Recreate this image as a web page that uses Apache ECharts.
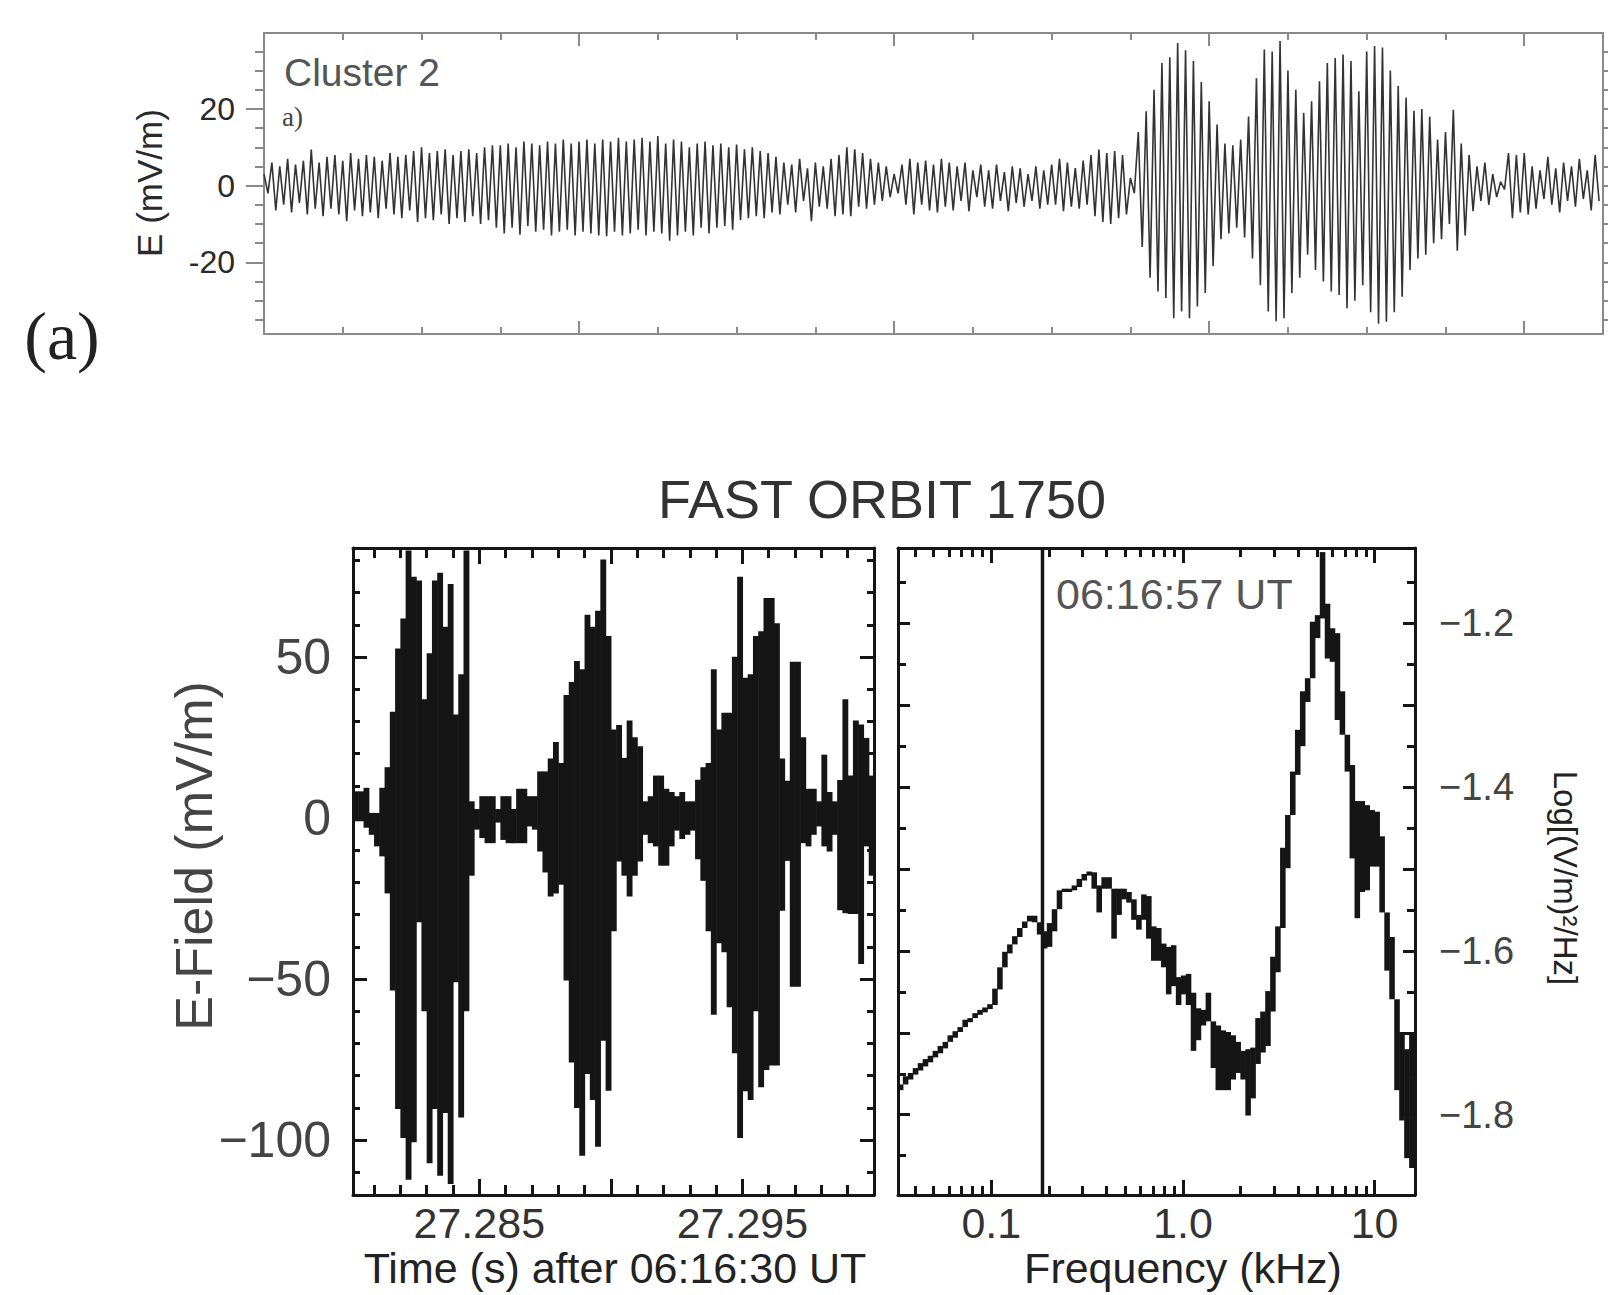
<!DOCTYPE html>
<html>
<head>
<meta charset="utf-8">
<script src="https://cdn.jsdelivr.net/npm/echarts@6/dist/echarts.min.js"></script>
<style>
  html, body { margin: 0; padding: 0; background: #fff; }
  #chart { width: 1608px; height: 1295px; }
</style>
</head>
<body>
<div id="chart"></div>
<script>
// ---------- values ----------

// (a) Cluster 2: peak and trough of each wave period (mV/m), one period = 0.1 tick unit
var clusterStep = 0.1;
var clusterPeaks = [
  3, 6, 5, 7, 5.5, 6.5, 9.4, 6, 7.5, 8,
  6.5, 8.5, 7, 8, 7.5, 6.5, 8.5, 7.5, 8, 9,
  10, 8.5, 9, 9.5, 8, 9, 9.5, 8.5, 10, 10.5,
  10.5, 11, 10, 11.5, 11, 10.5, 11.5, 11, 12, 11,
  11.5, 12, 11, 12, 11.5, 12.5, 11.5, 12, 12.5, 11.5,
  12.9, 11, 12, 11.5, 10, 11, 11.5, 10.5, 11, 10,
  10.7, 9.5, 10, 9, 8.5, 7.5, 6, 5.5, 7, 4.5,
  6, 5, 7, 8, 10, 9.5, 8.5, 7, 6, 5,
  3, 5.5, 7, 6, 6.5, 5.5, 7, 6, 5, 6,
  4, 5.5, 4, 5.5, 3.5, 5, 4.5, 3, 5, 4,
  5.5, 7, 6, 4.6, 6.5, 8, 9.4, 8.5, 9, 8,
  2, 14, 19.4, 25, 32, 33.5, 37.2, 35.3, 32.5, 27,
  22, 15.9, 11, 10.5, 12, 18, 28, 35.5, 35, 37.7,
  30, 25, 19, 22, 27.2, 32, 33.3, 34.2, 32.5, 24.6,
  35, 36.4, 36, 30, 26, 23, 19.5, 20, 18, 12,
  14, 19.8, 11, 8, 5, 6, 3, 1, 8.5, 8,
  8.5, 5, 4, 7.5, 4.5, 6, 5, 7, 4, 8
];
var clusterTroughs = [
  -2, -6.5, -5, -7, -4.5, -7.5, -6, -8, -6, -7.5,
  -9.3, -6.5, -8, -7, -8.5, -6, -7.5, -8.5, -6.5, -9.5,
  -8.5, -9, -7.5, -10, -8.5, -9.5, -8, -10, -9, -11,
  -12.5, -11, -12.8, -10.5, -12, -11.5, -13, -12, -11.5, -13,
  -12, -12.5, -13, -13.2, -12, -13, -12.5, -11.5, -13, -12,
  -12.5, -14.4, -13, -12, -13, -11, -12.5, -11, -10.5, -11.5,
  -9, -8.5, -8, -8.5, -7, -7.5, -5, -7, -4, -9.3,
  -5.5, -6, -8, -7.5, -8, -5.5, -6, -5, -4, -3,
  -2, -5, -7.5, -5, -6.5, -7, -5.5, -6.5, -4, -6.7,
  -3, -5.5, -6, -4, -6.7, -4.5, -5.5, -4, -6, -5,
  -5, -6.7, -5.5, -6, -5, -8, -9.5, -10, -8.5, -7.5,
  -2, -16, -24, -27.6, -29.3, -34.6, -32.8, -34.6, -31.5, -28,
  -21, -14, -12.5, -11, -13.5, -19, -26, -32.8, -35.4, -34.6,
  -28, -24, -18, -22, -25, -27.6, -28.5, -32, -30, -26,
  -33, -36, -35.5, -33, -29, -22, -19, -18, -15, -14,
  -10, -17, -13, -6.7, -4, -5, -3, -1, -8.5, -7,
  -7.5, -6, -3.5, -5, -7, -4, -5.5, -3.5, -6.5, -4
];
var clusterYLabels = [-20, 0, 20];

// FAST E-field: max / min of the trace in each 0.2 ms column (mV/m)
var fastT0 = 27.2802, fastDt = 0.0002;
var fastHigh = [
  8.3, 8.3, 9.4, 1.6, 1.6, 9.4, 15.8, 33.0, 52.7, 62.0,
  83.1, 75.0, 73.8, 36.9, 51.2, 73.8, 76.2, 59.4, 72.7, 32.2,
  44.7, 83.1, 5.2, 2.8, 6.8, 6.8, 6.8, 2.8, 6.8, 6.8,
  2.8, 9.1, 9.1, 6.8, 6.8, 14.5, 14.5, 18.5, 23.6, 17.1,
  38.2, 42.3, 48.8, 46.2, 63.2, 59.4, 64.4, 80.3, 56.6, 27.5,
  28.9, 18.7, 30.3, 25.1, 22.3, 5.2, 6.8, 13.2, 13.2, 9.1,
  8.1, 6.8, 8.1, 5.2, 5.2, 11.9, 15.8, 17.1, 46.2, 27.5,
  32.7, 32.7, 50.1, 75.0, 43.6, 44.7, 56.6, 58.0, 68.4, 68.4,
  60.5, 18.5, 11.6, 48.6, 48.6, 25.1, 9.1, 9.1, 5.2, 19.7,
  8.1, 5.2, 11.8, 36.9, 13.2, 30.3, 29.1, 24.9, 13.2
];
var fastLow = [
  -1.0, -1.0, -3.0, -5.2, -8.8, -11.9, -23.4, -53.6, -90.4, -99.4,
  -112.4, -100.7, -32.4, -60.0, -107.2, -90.4, -111.1, -91.6, -113.7, -51.0,
  -93.0, -60.0, -17.9, -3.6, -6.2, -7.8, -7.8, -1.4, -6.8, -7.8,
  -7.8, -7.8, -7.8, -2.6, -3.6, -10.4, -16.9, -24.4, -23.4, -20.7,
  -50.5, -75.9, -90.1, -104.9, -79.5, -87.6, -102.1, -69.2, -84.7, -35.2,
  -13.5, -17.9, -24.4, -17.9, -13.5, -5.2, -7.8, -8.8, -14.8, -14.8,
  -8.8, -3.9, -6.5, -5.2, -3.9, -12.8, -19.5, -35.2, -61.1, -38.9,
  -41.7, -58.8, -73.1, -99.4, -84.9, -87.6, -60.0, -83.6, -78.3, -76.9,
  -76.9, -28.8, -13.3, -52.4, -52.4, -7.8, -8.8, -5.2, -2.6, -8.8,
  -10.4, -5.2, -28.6, -29.6, -29.8, -29.8, -45.3, -8.8, -17.9
];
var fastXLabels = [27.285, 27.295];
var fastYLabels = [-100, -50, 0, 50];

// FAST spectrum: top / bottom of the trace per column, log10 f grid (kHz)
var specLogF0 = -1.4875, specDLog = 0.0259;
var specHigh = [
  -1.763, -1.753, -1.749, -1.743, -1.737, -1.732, -1.728, -1.722, -1.716, -1.711,
  -1.703, -1.698, -1.693, -1.684, -1.682, -1.676, -1.672, -1.669, -1.665, -1.646,
  -1.620, -1.601, -1.592, -1.582, -1.572, -1.564, -1.557, -1.557, -1.566, -1.576,
  -1.566, -1.549, -1.526, -1.524, -1.524, -1.520, -1.512, -1.506, -1.503, -1.504,
  -1.520, -1.510, -1.510, -1.524, -1.524, -1.524, -1.528, -1.537, -1.556, -1.531,
  -1.533, -1.570, -1.572, -1.591, -1.595, -1.593, -1.632, -1.630, -1.628, -1.651,
  -1.670, -1.672, -1.651, -1.686, -1.691, -1.697, -1.699, -1.703, -1.711, -1.722,
  -1.720, -1.718, -1.682, -1.674, -1.649, -1.607, -1.570, -1.474, -1.434, -1.381,
  -1.330, -1.283, -1.267, -1.198, -1.190, -1.113, -1.176, -1.206, -1.212, -1.283,
  -1.336, -1.373, -1.417, -1.417, -1.422, -1.428, -1.430, -1.460, -1.583, -1.583,
  -1.686, -1.699, -1.720, -1.699
];
var specLow = [
  -1.770, -1.763, -1.757, -1.751, -1.746, -1.741, -1.736, -1.730, -1.725, -1.719,
  -1.711, -1.706, -1.699, -1.693, -1.687, -1.682, -1.678, -1.675, -1.671, -1.666,
  -1.647, -1.620, -1.603, -1.592, -1.583, -1.572, -1.564, -1.565, -1.580, -1.597,
  -1.595, -1.576, -1.549, -1.528, -1.528, -1.526, -1.522, -1.514, -1.508, -1.524,
  -1.553, -1.524, -1.524, -1.585, -1.556, -1.537, -1.541, -1.562, -1.574, -1.562,
  -1.585, -1.612, -1.612, -1.620, -1.653, -1.643, -1.666, -1.653, -1.666, -1.722,
  -1.709, -1.691, -1.686, -1.743, -1.770, -1.770, -1.770, -1.757, -1.749, -1.757,
  -1.801, -1.780, -1.738, -1.724, -1.716, -1.674, -1.626, -1.572, -1.499, -1.434,
  -1.385, -1.350, -1.296, -1.267, -1.218, -1.194, -1.243, -1.247, -1.318, -1.336,
  -1.381, -1.487, -1.560, -1.528, -1.526, -1.497, -1.497, -1.553, -1.624, -1.659,
  -1.770, -1.807, -1.853, -1.865
];
var markerFreq = 0.185;   // 06:16:57 UT marker, kHz
var specXLabels = [0.1, 1, 10];
var specYLabels = [-1.8, -1.6, -1.4, -1.2];

// ---------- axis ranges ----------
var topX = [0, 17], topY = [-38.7, 39.8];
var fastX = [27.2802, 27.3], fastY = [-117.1, 83.9];
var specX = [0.0326, 16.25], specY = [-1.898, -1.108];

var FONT = "'Liberation Sans', Arial, Helvetica, sans-serif";
var SERIF = "'Liberation Serif', 'Times New Roman', serif";
var GRAY = '#8a8a8a', INK = '#151515';

function range(a, b, step, skip) {
  var out = [];
  for (var v = a; v <= b + step / 1000; v += step) {
    var r = Math.round(v * 10000) / 10000;
    if (!skip || !skip(r)) out.push(r);
  }
  return out;
}
function isMult(m) { return function (v) { return Math.abs(v / m - Math.round(v / m)) < 1e-6; }; }

function ax(grid, pos, kind, ext, ticks, len, o) {
  o = o || {};
  var col = o.color || INK;
  return {
    type: kind, logBase: 10, gridIndex: grid, position: pos, min: ext[0], max: ext[1],
    axisLine: { show: !!o.line, onZero: false, lineStyle: { color: col, width: o.lw || 3 } },
    axisTick: { show: ticks.length > 0, inside: !o.out, length: len, customValues: ticks,
      lineStyle: { color: col, width: o.tw || 3 } },
    axisLabel: o.labels ? { show: true, customValues: o.labels, formatter: o.fmt, margin: o.margin,
      color: o.labelColor || '#333', fontSize: o.fontSize, fontFamily: FONT } : { show: false },
    splitLine: { show: false },
    axisPointer: { show: false }
  };
}
function minus(v) { return v < 0 ? '\u2212' + Math.abs(v) : String(v); }

function txt(text, x, y, size, o) {
  o = o || {};
  return { type: 'text', x: x, y: y, rotation: o.rot || 0, silent: true,
    style: { text: text, fontSize: size, fontFamily: o.font || FONT, fill: o.color || '#333',
      align: o.align || 'center', verticalAlign: 'middle' } };
}

// ---------- series data ----------
var clusterData = [];
for (var k = 0; k < clusterPeaks.length; k++) {
  clusterData.push([k * clusterStep, clusterPeaks[k]]);
  clusterData.push([(k + 0.5) * clusterStep, clusterTroughs[k]]);
}
// columns: [x0, x1, bottom, top], stretched so each column touches the previous one
function columns(high, low, edge) {
  return high.map(function (h, i) {
    var ph = i ? high[i - 1] : h, pl = i ? low[i - 1] : low[i];
    return [edge(i), edge(i + 1), Math.min(low[i], ph), Math.max(h, pl)];
  });
}
var fastData = columns(fastHigh, fastLow, function (i) { return fastT0 + i * fastDt; });
var specData = columns(specHigh, specLow, function (i) { return Math.pow(10, specLogF0 + i * specDLog); });

function bandItem(params, api) {
  var a = api.coord([api.value(0), api.value(3)]);
  var b = api.coord([api.value(1), api.value(2)]);
  return { type: 'rect',
    shape: { x: a[0], y: a[1], width: b[0] - a[0] + 0.6, height: Math.max(b[1] - a[1], 3) },
    style: { fill: INK } };
}

// ---------- layout ----------
var topBox = { left: 264, top: 33, width: 1339, height: 301 };
var fastBox = { left: 353, top: 548, width: 521, height: 647 };
var specBox = { left: 898, top: 548, width: 517, height: 647 };
function box(b) { return { left: b.left, top: b.top, width: b.width, height: b.height, containLabel: false, outerBoundsMode: 'none' }; }

var topMajX = [0, 4, 8, 12, 16], topMinX = range(1, 16, 1, isMult(4));
var topMinY = range(-35, 35, 5, isMult(20)), topAllY = range(-35, 35, 5);
var fastMajX = [27.285, 27.29, 27.295], fastMinX = range(27.281, 27.299, 0.001, function (v) { return fastMajX.indexOf(v) >= 0; });
var fastMinY = range(-110, 80, 10, isMult(50));
var specMajX = [0.1, 1, 10];
var specMinX = [0.04, 0.05, 0.06, 0.07, 0.08, 0.09, 0.2, 0.3, 0.4, 0.5, 0.6, 0.7, 0.8, 0.9, 2, 3, 4, 5, 6, 7, 8, 9];
var specMajY = range(-1.8, -1.2, 0.1), specMinY = range(-1.85, -1.15, 0.1);

var gOpt = { line: true, color: GRAY, lw: 2, tw: 2 };
var option = {
  animation: false,
  backgroundColor: '#fff',
  textStyle: { fontFamily: FONT },
  grid: [box(topBox), box(topBox), box(fastBox), box(fastBox), box(specBox), box(specBox)],
  xAxis: [
    ax(0, 'bottom', 'value', topX, topMajX, 13, gOpt),
    ax(0, 'top', 'value', topX, topMajX, 13, gOpt),
    ax(1, 'bottom', 'value', topX, topMinX, 7, { color: GRAY, tw: 2 }),
    ax(1, 'top', 'value', topX, topMinX, 7, { color: GRAY, tw: 2 }),
    ax(2, 'bottom', 'value', fastX, fastMajX, 16, { line: true, labels: fastXLabels, margin: 6, fontSize: 43,
      fmt: function (v) { return v.toFixed(3); } }),
    ax(2, 'top', 'value', fastX, fastMajX, 16, { line: true }),
    ax(3, 'bottom', 'value', fastX, fastMinX, 10),
    ax(3, 'top', 'value', fastX, fastMinX, 10),
    ax(4, 'bottom', 'log', specX, specMajX, 15, { line: true, labels: specXLabels, margin: 6, fontSize: 43,
      fmt: function (v) { return Math.abs(v - 1) < 1e-9 ? '1.0' : String(+v.toPrecision(3)); } }),
    ax(4, 'top', 'log', specX, specMajX, 15, { line: true }),
    ax(5, 'bottom', 'log', specX, specMinX, 9),
    ax(5, 'top', 'log', specX, specMinX, 9)
  ],
  yAxis: [
    ax(0, 'left', 'value', topY, clusterYLabels, 18, { line: true, out: true, color: GRAY, lw: 2, tw: 2,
      labels: clusterYLabels, margin: 29, fontSize: 32, labelColor: '#2a2a2a', fmt: function (v) { return String(v); } }),
    ax(0, 'right', 'value', topY, topAllY, 5, { line: true, out: true, color: GRAY, lw: 2, tw: 2 }),
    ax(1, 'left', 'value', topY, topMinY, 9, { out: true, color: GRAY, tw: 2 }),
    ax(1, 'right', 'value', topY, [], 0),
    ax(2, 'left', 'value', fastY, fastYLabels, 14, { line: true, labels: fastYLabels, margin: 22, fontSize: 50,
      labelColor: '#444', fmt: minus }),
    ax(2, 'right', 'value', fastY, fastYLabels, 14, { line: true }),
    ax(3, 'left', 'value', fastY, fastMinY, 7),
    ax(3, 'right', 'value', fastY, fastMinY, 7),
    ax(4, 'left', 'value', specY, specMajY, 12, { line: true }),
    ax(4, 'right', 'value', specY, specMajY, 12, { line: true, labels: specYLabels, margin: 24, fontSize: 38,
      labelColor: '#444', fmt: function (v) { return '\u2212' + Math.abs(v).toFixed(1); } }),
    ax(5, 'left', 'value', specY, specMinY, 8),
    ax(5, 'right', 'value', specY, specMinY, 8)
  ],
  graphic: { elements: [
    txt('(a)', 62, 336, 68, { font: SERIF, color: '#222' }),
    txt('Cluster 2', 284, 72, 39, { align: 'left', color: '#555' }),
    txt('a)', 282, 117, 27, { align: 'left', font: SERIF, color: '#444' }),
    txt('E (mV/m)', 149, 183, 35, { rot: Math.PI / 2, color: '#2a2a2a' }),
    txt('FAST ORBIT 1750', 882, 499, 54),
    txt('E-Field (mV/m)', 194, 856, 52, { rot: Math.PI / 2, color: '#444' }),
    txt('06:16:57 UT', 1056, 594, 43, { align: 'left', color: '#555' }),
    txt('Time (s) after 06:16:30 UT', 615, 1268, 43, { color: '#222' }),
    txt('Frequency (kHz)', 1183, 1268, 43, { color: '#222' }),
    txt('Log[(V/m)\u00b2/Hz]', 1565, 878, 33, { rot: -Math.PI / 2, color: '#222' })
  ] },
  series: [
    { type: 'line', xAxisIndex: 0, yAxisIndex: 0, data: clusterData, symbol: 'none', showSymbol: false,
      lineStyle: { color: '#333', width: 1.6 }, silent: true },
    { type: 'custom', xAxisIndex: 4, yAxisIndex: 4, data: fastData, renderItem: bandItem,
      encode: { x: [0, 1], y: [2, 3] }, silent: true },
    { type: 'custom', xAxisIndex: 8, yAxisIndex: 9, data: specData, renderItem: bandItem,
      encode: { x: [0, 1], y: [2, 3] }, silent: true },
    { type: 'line', xAxisIndex: 8, yAxisIndex: 9, data: [[markerFreq, specY[0]], [markerFreq, specY[1]]],
      symbol: 'none', lineStyle: { color: INK, width: 3.5 }, silent: true }
  ]
};

var chart = echarts.init(document.getElementById('chart'), null, { renderer: 'svg' });
chart.setOption(option);
window.addEventListener('resize', function () { chart.resize(); });
</script>
</body>
</html>
